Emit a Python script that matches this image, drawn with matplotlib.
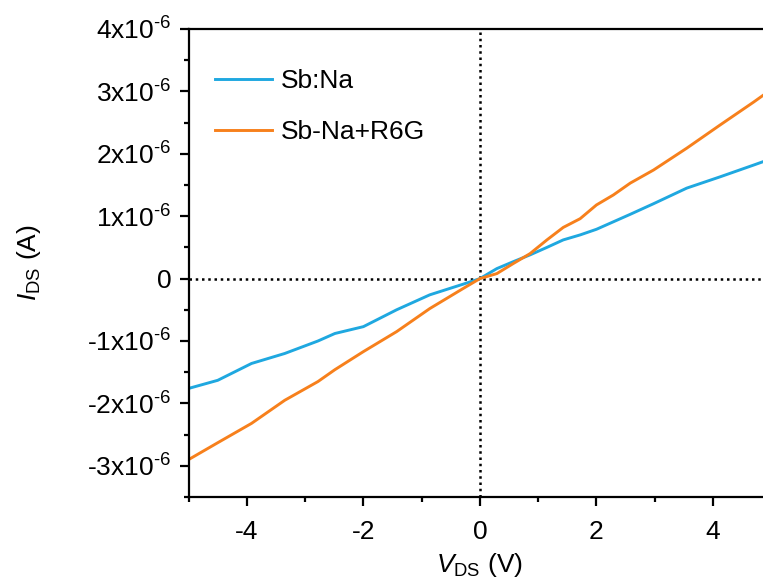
import numpy as np
import matplotlib
matplotlib.use('Agg')
import matplotlib.pyplot as plt
from matplotlib.ticker import FixedLocator, MultipleLocator, FuncFormatter

plt.rcParams['font.family'] = ['Liberation Sans', 'DejaVu Sans']
plt.rcParams['mathtext.fontset'] = 'custom'
plt.rcParams['mathtext.rm'] = 'Liberation Sans'
plt.rcParams['mathtext.it'] = 'Liberation Sans:italic'
plt.rcParams['axes.unicode_minus'] = False

# current in units of 1e-6 A
v_ds = [-5.0, -4.5, -3.92, -3.35, -2.78, -2.49, -2.0, -1.43, -0.86, -0.29, 0.0,
        0.29, 0.57, 0.86, 1.15, 1.43, 1.72, 2.0, 2.29, 2.58, 2.98, 3.55, 4.12, 4.70, 5.0]
i_sbna = [-1.76, -1.63, -1.36, -1.20, -1.00, -0.88, -0.77, -0.50, -0.26, -0.09, 0.0,
          0.16, 0.27, 0.38, 0.50, 0.62, 0.70, 0.79, 0.91, 1.03, 1.20, 1.45, 1.63, 1.82, 1.92]
i_r6g = [-2.90, -2.63, -2.32, -1.95, -1.65, -1.46, -1.17, -0.85, -0.48, -0.16, 0.0,
         0.08, 0.24, 0.40, 0.62, 0.82, 0.96, 1.18, 1.34, 1.53, 1.74, 2.09, 2.46, 2.83, 3.03]
labels = ['Sb:Na', 'Sb-Na+R6G']
colors = ['#1fa8e0', '#f7801c']

fs = 19

fig = plt.figure(figsize=(7.63, 5.83), dpi=100)
# right spine falls just outside the picture, like the reference crop
ax = fig.add_axes([0.2472, 0.1475, 0.7636, 0.8028])

ax.axvline(0, color='black', linestyle=(0, (1, 1.5)), linewidth=1.8, zorder=1)
ax.axhline(0, color='black', linestyle=(0, (1, 1.5)), linewidth=1.8, zorder=1)

ax.plot(v_ds, np.array(i_sbna) * 1e-6, color=colors[0], linewidth=2.1, label=labels[0])
ax.plot(v_ds, np.array(i_r6g) * 1e-6, color=colors[1], linewidth=2.1, label=labels[1])

ax.set_xlim(-5, 5)
ax.set_ylim(-3.5e-6, 4e-6)

ax.xaxis.set_major_locator(FixedLocator([-4, -2, 0, 2, 4]))
ax.xaxis.set_minor_locator(MultipleLocator(1))
ax.yaxis.set_major_locator(FixedLocator([k * 1e-6 for k in range(-3, 5)]))
ax.yaxis.set_minor_locator(MultipleLocator(0.5e-6))


def ytick_fmt(val, pos):
    k = int(round(val * 1e6))
    if k == 0:
        return '0'
    return f'{k}x10$^{{\\text{{-6}}}}$'


ax.yaxis.set_major_formatter(FuncFormatter(ytick_fmt))

for side in ['top', 'bottom', 'left', 'right']:
    ax.spines[side].set_linewidth(1.6)

ax.tick_params(which='major', direction='out', length=6.5, width=1.6, labelsize=fs)
ax.tick_params(which='minor', direction='out', length=3.3, width=1.6)
ax.tick_params(axis='x', which='both', top=False, pad=10)
ax.tick_params(axis='y', which='both', right=False, pad=6)

ax.set_xlabel('$\\mathit{V}_{\\mathrm{DS}}$ (V)', fontsize=fs)
ax.set_ylabel('$\\mathit{I}_{\\mathrm{DS}}$ (A)', fontsize=fs)
ax.xaxis.set_label_coords(0.5, -0.115)
ax.yaxis.set_label_coords(-0.25, 0.5)

ax.legend(loc='upper left', bbox_to_anchor=(0.045, 0.914), frameon=False,
          fontsize=fs, handlelength=2.15, handletextpad=0.35,
          labelspacing=1.02, borderpad=0, borderaxespad=0)

fig.savefig('out.png', dpi=100)
